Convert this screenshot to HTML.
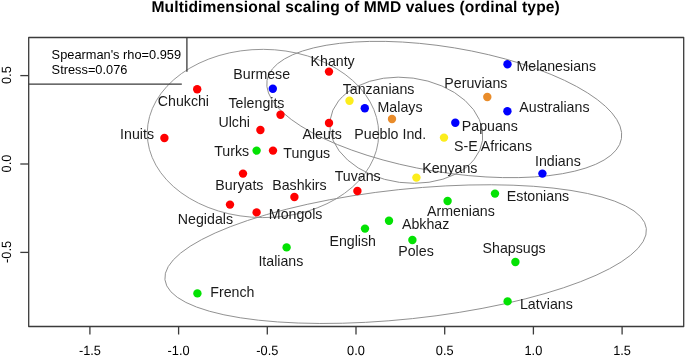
<!DOCTYPE html>
<html><head><meta charset="utf-8"><style>
html,body{margin:0;padding:0;background:#fff;}
svg{display:block;}
text{font-family:"Liberation Sans",Arial,sans-serif;}
</style></head><body>
<svg width="685" height="356" viewBox="0 0 685 356">
<rect width="685" height="356" fill="#fff"/>
<text x="355.7" y="12.2" font-size="15.6" letter-spacing="0.12" text-rendering="geometricPrecision" font-weight="bold" text-anchor="middle" fill="#000">Multidimensional scaling of MMD values (ordinal type)</text>
<ellipse cx="262.99" cy="133.47" rx="115.72" ry="84.12" transform="rotate(0.261 262.99 133.47)" fill="none" stroke="#8a8a8a" stroke-width="0.9"/>
<ellipse cx="444.24" cy="109.50" rx="179.59" ry="62.46" transform="rotate(9.350 444.24 109.50)" fill="none" stroke="#8a8a8a" stroke-width="0.9"/>
<ellipse cx="406.31" cy="130.24" rx="76.89" ry="52.56" transform="rotate(7.541 406.31 130.24)" fill="none" stroke="#8a8a8a" stroke-width="0.9"/>
<ellipse cx="405.64" cy="254.12" rx="242.07" ry="64.84" transform="rotate(-6.061 405.64 254.12)" fill="none" stroke="#8a8a8a" stroke-width="0.9"/>
<path d="M28.7 37.5H683.7V326.5H28.7Z" fill="none" stroke="#3b3b3b" stroke-width="1.3" stroke-linejoin="round"/>
<line x1="89.9" y1="326.5" x2="89.9" y2="334.5" stroke="#3b3b3b" stroke-width="1.3"/>
<text transform="translate(89.90 355.2) scale(0.955 1)" font-size="13.4" text-rendering="geometricPrecision" text-anchor="middle" fill="#000">-1.5</text>
<line x1="178.6" y1="326.5" x2="178.6" y2="334.5" stroke="#3b3b3b" stroke-width="1.3"/>
<text transform="translate(178.60 355.2) scale(0.955 1)" font-size="13.4" text-rendering="geometricPrecision" text-anchor="middle" fill="#000">-1.0</text>
<line x1="267.3" y1="326.5" x2="267.3" y2="334.5" stroke="#3b3b3b" stroke-width="1.3"/>
<text transform="translate(267.30 355.2) scale(0.955 1)" font-size="13.4" text-rendering="geometricPrecision" text-anchor="middle" fill="#000">-0.5</text>
<line x1="356.0" y1="326.5" x2="356.0" y2="334.5" stroke="#3b3b3b" stroke-width="1.3"/>
<text transform="translate(356.00 355.2) scale(0.955 1)" font-size="13.4" text-rendering="geometricPrecision" text-anchor="middle" fill="#000">0.0</text>
<line x1="444.7" y1="326.5" x2="444.7" y2="334.5" stroke="#3b3b3b" stroke-width="1.3"/>
<text transform="translate(444.70 355.2) scale(0.955 1)" font-size="13.4" text-rendering="geometricPrecision" text-anchor="middle" fill="#000">0.5</text>
<line x1="533.4" y1="326.5" x2="533.4" y2="334.5" stroke="#3b3b3b" stroke-width="1.3"/>
<text transform="translate(533.40 355.2) scale(0.955 1)" font-size="13.4" text-rendering="geometricPrecision" text-anchor="middle" fill="#000">1.0</text>
<line x1="622.1" y1="326.5" x2="622.1" y2="334.5" stroke="#3b3b3b" stroke-width="1.3"/>
<text transform="translate(622.10 355.2) scale(0.955 1)" font-size="13.4" text-rendering="geometricPrecision" text-anchor="middle" fill="#000">1.5</text>
<line x1="20.3" y1="75.6" x2="28.7" y2="75.6" stroke="#3b3b3b" stroke-width="1.3"/>
<text transform="translate(11.0 75.10) rotate(-90) scale(0.955 1)" font-size="13.4" text-rendering="geometricPrecision" text-anchor="middle" fill="#000">0.5</text>
<line x1="20.3" y1="164.0" x2="28.7" y2="164.0" stroke="#3b3b3b" stroke-width="1.3"/>
<text transform="translate(11.0 163.50) rotate(-90) scale(0.955 1)" font-size="13.4" text-rendering="geometricPrecision" text-anchor="middle" fill="#000">0.0</text>
<line x1="20.3" y1="252.4" x2="28.7" y2="252.4" stroke="#3b3b3b" stroke-width="1.3"/>
<text transform="translate(11.0 251.90) rotate(-90) scale(0.955 1)" font-size="13.4" text-rendering="geometricPrecision" text-anchor="middle" fill="#000">-0.5</text>
<path d="M186.9 37.5V71.8M28.7 84.2H181.8" fill="none" stroke="#3b3b3b" stroke-width="1.3"/>
<text x="51.61" y="58.6" font-size="12.8" fill="#000">Spearman's rho=0.959</text>
<text x="51.61" y="73.8" font-size="12.8" fill="#000">Stress=0.076</text>
<circle cx="329" cy="71.6" r="4.2" fill="#ff0000"/>
<circle cx="197.2" cy="89.2" r="4.2" fill="#ff0000"/>
<circle cx="164.4" cy="138" r="4.2" fill="#ff0000"/>
<circle cx="280.5" cy="114.8" r="4.2" fill="#ff0000"/>
<circle cx="260.4" cy="130" r="4.2" fill="#ff0000"/>
<circle cx="273" cy="150.6" r="4.2" fill="#ff0000"/>
<circle cx="329" cy="123" r="4.2" fill="#ff0000"/>
<circle cx="243" cy="173.6" r="4.2" fill="#ff0000"/>
<circle cx="294.4" cy="197" r="4.2" fill="#ff0000"/>
<circle cx="230" cy="204.6" r="4.2" fill="#ff0000"/>
<circle cx="256.6" cy="212.4" r="4.2" fill="#ff0000"/>
<circle cx="357.4" cy="191" r="4.2" fill="#ff0000"/>
<circle cx="272.8" cy="88.8" r="4.2" fill="#0000ff"/>
<circle cx="364.8" cy="108.2" r="4.2" fill="#0000ff"/>
<circle cx="507.5" cy="64.3" r="4.2" fill="#0000ff"/>
<circle cx="507.4" cy="111.2" r="4.2" fill="#0000ff"/>
<circle cx="455.3" cy="122.7" r="4.2" fill="#0000ff"/>
<circle cx="542.4" cy="173.6" r="4.2" fill="#0000ff"/>
<circle cx="349.5" cy="100.7" r="4.2" fill="#fced1c"/>
<circle cx="444" cy="137.6" r="4.2" fill="#fced1c"/>
<circle cx="416.4" cy="177.6" r="4.2" fill="#fced1c"/>
<circle cx="487.3" cy="97" r="4.2" fill="#e98c2a"/>
<circle cx="392" cy="119" r="4.2" fill="#e98c2a"/>
<circle cx="256.6" cy="150.6" r="4.2" fill="#03e203"/>
<circle cx="447.6" cy="201" r="4.2" fill="#03e203"/>
<circle cx="495" cy="193.6" r="4.2" fill="#03e203"/>
<circle cx="389" cy="220.8" r="4.2" fill="#03e203"/>
<circle cx="365" cy="228.6" r="4.2" fill="#03e203"/>
<circle cx="412.4" cy="240" r="4.2" fill="#03e203"/>
<circle cx="286.6" cy="247.4" r="4.2" fill="#03e203"/>
<circle cx="515.4" cy="262" r="4.2" fill="#03e203"/>
<circle cx="197.4" cy="293.4" r="4.2" fill="#03e203"/>
<circle cx="507.6" cy="301.4" r="4.2" fill="#03e203"/>
<text x="310.54" y="65.70" font-size="14.2" fill="#1a1a1a">Khanty</text>
<text x="157.78" y="106.30" font-size="14.2" fill="#1a1a1a">Chukchi</text>
<text x="120.09" y="138.80" font-size="14.2" fill="#1a1a1a">Inuits</text>
<text x="228.47" y="107.50" font-size="14.2" fill="#1a1a1a">Telengits</text>
<text x="218.44" y="126.50" font-size="14.2" fill="#1a1a1a">Ulchi</text>
<text x="283.37" y="158.20" font-size="14.2" fill="#1a1a1a">Tungus</text>
<text x="302.50" y="139.00" font-size="14.2" fill="#1a1a1a">Aleuts</text>
<text x="215.34" y="189.70" font-size="14.2" fill="#1a1a1a">Buryats</text>
<text x="272.24" y="189.80" font-size="14.2" fill="#1a1a1a">Bashkirs</text>
<text x="177.84" y="224.00" font-size="14.2" fill="#1a1a1a">Negidals</text>
<text x="268.84" y="218.60" font-size="14.2" fill="#1a1a1a">Mongols</text>
<text x="334.67" y="181.40" font-size="14.2" fill="#1a1a1a">Tuvans</text>
<text x="233.34" y="79.40" font-size="14.2" fill="#1a1a1a">Burmese</text>
<text x="377.54" y="111.70" font-size="14.2" fill="#1a1a1a">Malays</text>
<text x="516.44" y="70.90" font-size="14.2" fill="#1a1a1a">Melanesians</text>
<text x="519.30" y="111.60" font-size="14.2" fill="#1a1a1a">Australians</text>
<text x="461.84" y="130.50" font-size="14.2" fill="#1a1a1a">Papuans</text>
<text x="534.99" y="165.70" font-size="14.2" fill="#1a1a1a">Indians</text>
<text x="444.34" y="88.00" font-size="14.2" fill="#1a1a1a">Peruvians</text>
<text x="354.34" y="139.00" font-size="14.2" fill="#1a1a1a">Pueblo Ind.</text>
<text x="342.67" y="93.50" font-size="14.2" fill="#1a1a1a">Tanzanians</text>
<text x="453.95" y="151.10" font-size="14.2" fill="#1a1a1a">S-E Africans</text>
<text x="422.24" y="173.20" font-size="14.2" fill="#1a1a1a">Kenyans</text>
<text x="214.17" y="155.80" font-size="14.2" fill="#1a1a1a">Turks</text>
<text x="427.00" y="216.40" font-size="14.2" fill="#1a1a1a">Armenians</text>
<text x="506.84" y="201.10" font-size="14.2" fill="#1a1a1a">Estonians</text>
<text x="402.00" y="228.60" font-size="14.2" fill="#1a1a1a">Abkhaz</text>
<text x="329.44" y="246.00" font-size="14.2" fill="#1a1a1a">English</text>
<text x="398.24" y="255.50" font-size="14.2" fill="#1a1a1a">Poles</text>
<text x="258.39" y="266.00" font-size="14.2" fill="#1a1a1a">Italians</text>
<text x="482.55" y="252.60" font-size="14.2" fill="#1a1a1a">Shapsugs</text>
<text x="210.24" y="296.80" font-size="14.2" fill="#1a1a1a">French</text>
<text x="519.94" y="309.30" font-size="14.2" fill="#1a1a1a">Latvians</text>
</svg>
</body></html>
